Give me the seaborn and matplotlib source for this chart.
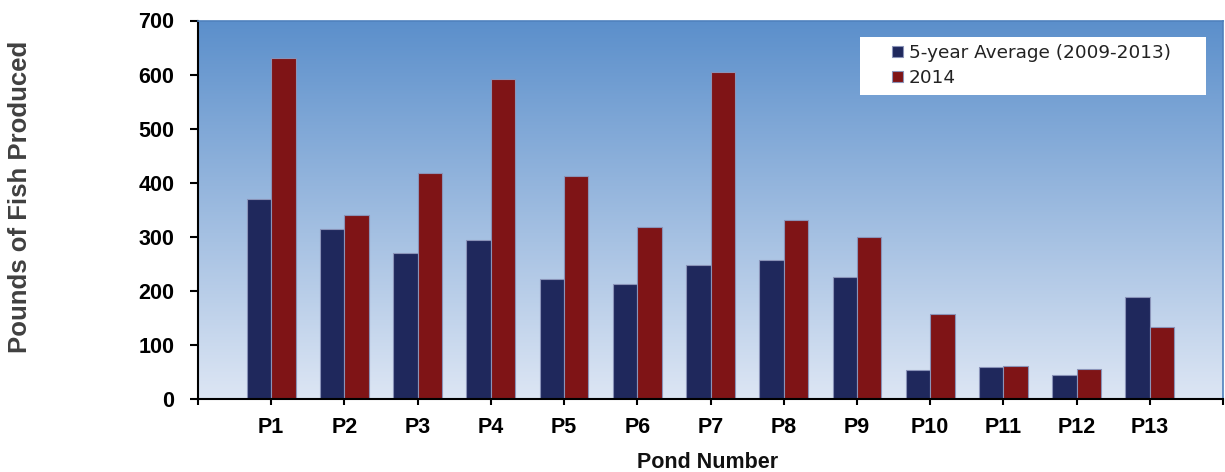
import pandas as pd
import numpy as np
import matplotlib
matplotlib.use('Agg')
import matplotlib.pyplot as plt
from matplotlib.colors import LinearSegmentedColormap
from matplotlib.patches import Rectangle
import seaborn as sns

ponds = ['P1', 'P2', 'P3', 'P4', 'P5', 'P6', 'P7', 'P8', 'P9', 'P10', 'P11', 'P12', 'P13']
avg_2009_2013 = [369, 315, 270, 294, 222, 212, 248, 257, 226, 53, 58, 44, 188]
prod_2014 = [630, 340, 417, 591, 412, 317, 605, 330, 300, 156, 60, 55, 133]
series_names = ['5-year Average (2009-2013)', '2014']

df = pd.DataFrame({
    'Pond': ponds * 2,
    'Pounds': avg_2009_2013 + prod_2014,
    'Series': [series_names[0]] * len(ponds) + [series_names[1]] * len(ponds),
})

sns.set_style('white')
plt.rcParams['font.family'] = ['Liberation Sans', 'DejaVu Sans']
plt.rcParams['text.color'] = 'black'
plt.rcParams['xtick.color'] = 'black'
plt.rcParams['ytick.color'] = 'black'

W, H = 1225, 472
fig = plt.figure(figsize=(W / 100, H / 100), dpi=100)
x0, x1, y0, y1 = 198, 1223, 20.5, 398.7
ax = fig.add_axes([x0 / W, 1 - y1 / H, (x1 - x0) / W, (y1 - y0) / H])

# gradient background of the plot area
grad = LinearSegmentedColormap.from_list('bg', ['#dde6f4', '#5b8fcb'])
ax.imshow(np.linspace(0, 1, 256).reshape(-1, 1), cmap=grad, origin='lower',
          extent=(-1, 13, 0, 700), aspect='auto', zorder=0)

sns.barplot(data=df, x='Pond', y='Pounds', hue='Series', ax=ax,
            palette=['#1f285c', '#7f1416'], saturation=1, width=0.667,
            edgecolor='#8a93b8', linewidth=0.8, zorder=2)

ax.set_xlim(-1, 13)
ax.set_ylim(0, 700)
ax.set_xticks(range(-1, 14))
ax.set_xticklabels([''] + ponds + [''], fontsize=15.5, fontweight='bold')
ax.set_yticks(range(0, 701, 100))
ax.set_yticklabels([str(v) for v in range(0, 701, 100)], fontsize=15.5, fontweight='bold')
ax.tick_params(axis='both', direction='out', width=1.5, color='black',
               bottom=True, left=True)
ax.tick_params(axis='y', length=6, pad=11)
ax.tick_params(axis='x', length=4.5, pad=8.5)

for side in ['left', 'bottom']:
    ax.spines[side].set_color('black')
    ax.spines[side].set_linewidth(1.5)
for side in ['top', 'right']:
    ax.spines[side].set_color('#4f81bd')
    ax.spines[side].set_linewidth(1.2)

ax.set_xlabel('')
ax.set_ylabel('')
fig.text(20 / W, 1 - 197 / H, 'Pounds of Fish Produced', rotation=90,
         ha='center', va='center', fontsize=18.5, fontweight='bold', color='#404040')
fig.text(708 / W, 1 - 462 / H, 'Pond Number', ha='center', va='center',
         fontsize=15.5, fontweight='bold', color='#111111')

# white legend panel
ax.add_patch(Rectangle(((860 - x0) / (x1 - x0), (y1 - 95) / (y1 - y0)),
                       (1206 - 860) / (x1 - x0), 58 / (y1 - y0),
                       transform=ax.transAxes, facecolor='white', edgecolor='none',
                       zorder=4))
leg = ax.legend(loc='upper left', bbox_to_anchor=((892 - x0) / (x1 - x0), (y1 - 44) / (y1 - y0)),
                frameon=False, prop={'family': 'DejaVu Sans', 'size': 13.3},
                handlelength=0.6, handleheight=0.6, handletextpad=0.3,
                borderpad=0, labelspacing=0.38, borderaxespad=0)
leg.set_zorder(5)
for t in leg.get_texts():
    t.set_color('#222222')

fig.savefig('out.png', dpi=100)
